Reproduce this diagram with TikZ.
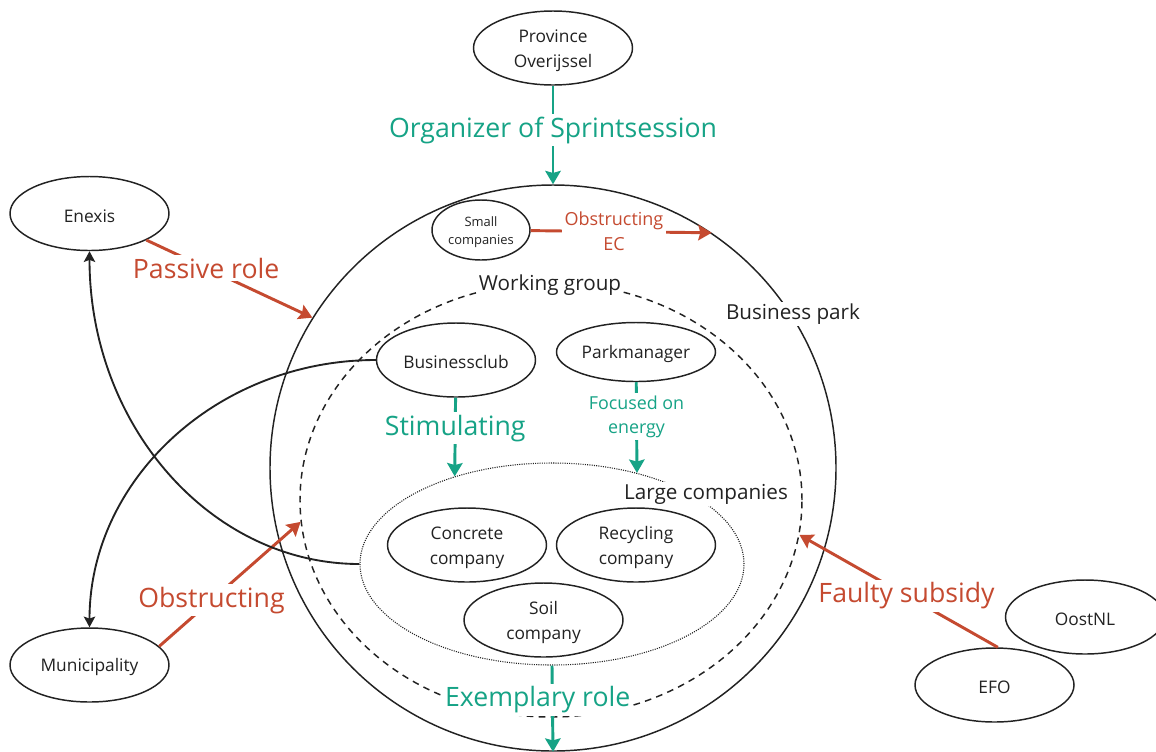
\documentclass[tikz,border=0pt]{standalone}
\usepackage{fontspec}
\setmainfont{Open Sans}
\usetikzlibrary{shapes.geometric,arrows.meta}

\definecolor{grn}{RGB}{22,163,134}
\definecolor{rd}{RGB}{197,74,48}
\definecolor{ink}{RGB}{34,34,34}

% strut that lowers the first text line inside the ellipses
\newcommand{\topstrut}[1][13.5pt]{\rule{0pt}{#1}}

\tikzset{
  actor/.style={ellipse, draw=ink, line width=1.1pt, fill=white, inner sep=0pt,
    minimum width=119.25pt, minimum height=55.5pt, align=center, text=ink,
    font=\fontsize{13}{18.75}\selectfont},
  area/.style={draw=ink, inner sep=0pt},
  arealabel/.style={fill=white, text=ink, inner sep=1.5pt,
    font=\fontsize{15.5}{18}\selectfont},
  glabel/.style={fill=white, text=grn, inner sep=2pt, align=center,
    font=\fontsize{20}{24}\selectfont},
  gsmall/.style={fill=white, text=grn, inner sep=2pt, align=center,
    font=\fontsize{13.4}{17.5}\selectfont},
  rlabel/.style={fill=white, text=rd, inner sep=2pt, align=center,
    font=\fontsize{20}{24}\selectfont},
  rsmall/.style={fill=white, text=rd, inner sep=2pt, align=center,
    font=\fontsize{13.5}{18.75}\selectfont},
  garrow/.style={draw=grn, line width=2.2pt,
    -{Stealth[length=10pt,width=11.5pt,inset=1.5pt]}},
  rarrow/.style={draw=rd, line width=2.2pt,
    -{Stealth[length=10pt,width=11.5pt,inset=1.5pt]}},
  barrow/.style={draw=ink, line width=1.4pt,
    -{Stealth[length=8pt,width=8.5pt,inset=1.5pt]}},
}

\begin{document}
\begin{tikzpicture}[x=0.75pt,y=-0.75pt]
  \fill[white] (0,0) rectangle (1156,751);
  \path[use as bounding box] (0,0) rectangle (1156,751);

  % nested areas
  \node[area, circle, line width=1.1pt, minimum size=424.5pt] (bp) at (553,468) {};
  \node[area, ellipse, line width=1.1pt, dash pattern=on 5pt off 4pt,
        minimum width=376.5pt, minimum height=325.5pt] (wg) at (551,500) {};
  \node[area, ellipse, line width=0.8pt, dash pattern=on 0.8pt off 0.9pt,
        minimum width=288pt, minimum height=151.5pt] (lc) at (552,564) {};

  \node[arealabel] (bplabel) at (793,314) {Business park};
  \node[arealabel] (wglabel) at (550,285) {Working group};
  \node[arealabel] (lclabel) at (706,494) {Large companies};

  % actors
  \node[actor] (prov) at (553,48) {\topstrut Province\\Overijssel};
  \node[actor] (enexis) at (89.5,213.5) {\topstrut Enexis};
  \node[actor] (muni) at (89.5,665) {\topstrut Municipality};
  \node[actor] (oost) at (1085,617) {\topstrut OostNL};
  \node[actor] (efo) at (994.5,685) {\topstrut EFO};
  \node[actor, minimum width=73.5pt, minimum height=45pt,
        font=\fontsize{9.7}{13.5}\selectfont] (small) at (481,230) {\topstrut[10.5pt]Small\\companies};
  \node[actor] (bclub) at (456,360) {\topstrut Businessclub};
  \node[actor, minimum height=44.25pt] (pm) at (636,352) {\topstrut Parkmanager};
  \node[actor] (conc) at (467,545) {\topstrut Concrete\\company};
  \node[actor] (recy) at (636,545) {\topstrut Recycling\\company};
  \node[actor] (soil) at (543.5,620) {\topstrut Soil\\company};

  % influences
  \draw[garrow] (prov) -- node[glabel, pos=0.45] {Organizer of Sprintsession} (bp.north);
  \draw[rarrow] (small) -- node[rsmall, pos=0.46] {Obstructing\\EC} (bp.56);
  \draw[rarrow] (enexis) -- node[rlabel, pos=0.36] {Passive role} (bp.148);
  \draw[rarrow] (muni.15) -- node[rlabel, pos=0.37] {Obstructing} (wg.185);
  \draw[rarrow] (efo.85) -- node[rlabel, pos=0.46] {Faulty subsidy} (wg.352);
  \draw[garrow] (bclub) -- node[glabel, pos=0.39] {Stimulating} (lc.138);
  \draw[garrow] (pm) -- node[gsmall, pos=0.38] {Focused on\\energy} (lc.47);
  \draw[garrow] (lc.south) -- node[glabel, pos=0.4, xshift=-11pt] {Exemplary role} (bp.south);

  % contacts with the outside
  \draw[barrow] (bclub.west) .. controls +(-158,0) and +(0,-148) .. (muni.north);
  \draw[barrow] (lc.west) .. controls +(-149,0) and +(0,174) .. (enexis.south);
\end{tikzpicture}
\end{document}
